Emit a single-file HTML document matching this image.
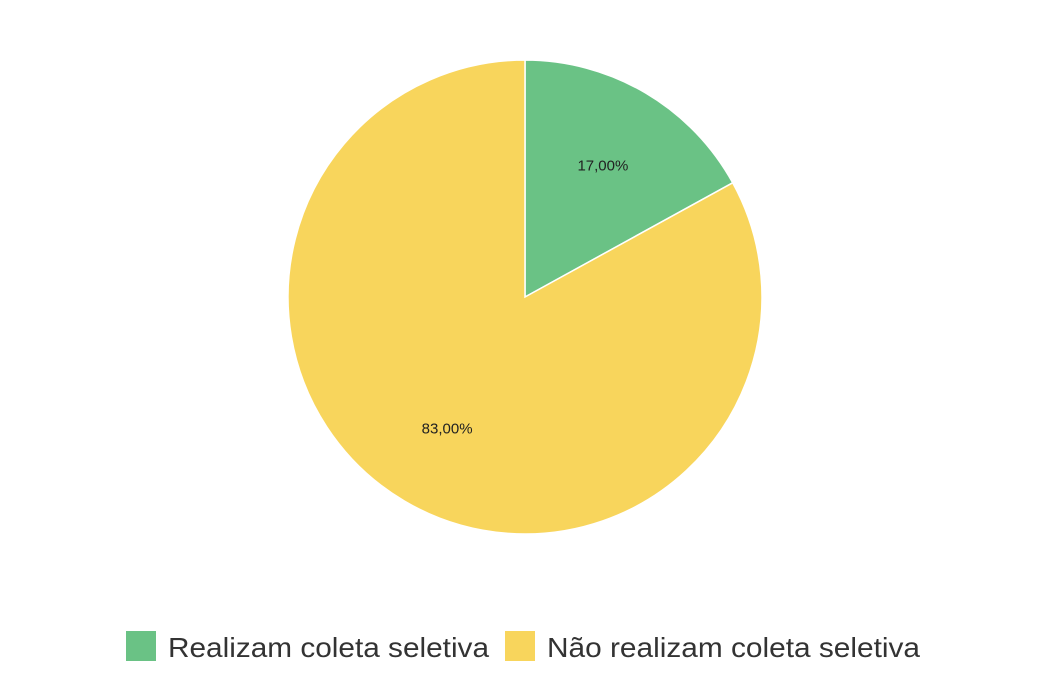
<!DOCTYPE html>
<html><head><meta charset="utf-8"><style>
html,body{margin:0;padding:0;background:#fff;width:1044px;height:679px;overflow:hidden}
svg{display:block}
</style></head><body>
<svg id="chart" width="1044" height="679">
<g id="slices"></g>
<g id="labels"></g>
<g id="legend"></g>
</svg>
<script>
const categories = ["Realizam coleta seletiva", "Não realizam coleta seletiva"];
const values = [17, 83];
const valueLabels = ["17,00%", "83,00%"];
const colors = ["#6ac285", "#f8d55c"];

const NS = "http://www.w3.org/2000/svg";
const cx = 525, cy = 297, r = 237, lr = 153;
const total = values.reduce((a, b) => a + b, 0);
const sg = document.getElementById("slices");
const lg = document.getElementById("labels");
let a0 = -Math.PI / 2;
values.forEach((v, i) => {
  const a1 = a0 + v / total * 2 * Math.PI;
  const large = (a1 - a0) > Math.PI ? 1 : 0;
  const p = document.createElementNS(NS, "path");
  p.setAttribute("d", `M${cx},${cy} L${cx + r * Math.cos(a0)},${cy + r * Math.sin(a0)} A${r},${r} 0 ${large} 1 ${cx + r * Math.cos(a1)},${cy + r * Math.sin(a1)} Z`);
  p.setAttribute("fill", colors[i]);
  p.setAttribute("stroke", "#fff");
  p.setAttribute("stroke-width", "1.5");
  
  
  sg.appendChild(p);
  const m = (a0 + a1) / 2;
  const t = document.createElementNS(NS, "text");
  t.setAttribute("x", cx + lr * Math.cos(m));
  t.setAttribute("y", cy + lr * Math.sin(m) + 5);
  t.setAttribute("text-anchor", "middle");
  t.setAttribute("font-family", "Liberation Sans, sans-serif");
  t.setAttribute("font-size", "15");
  t.setAttribute("fill", "#222");
  t.textContent = valueLabels[i];
  
  
  lg.appendChild(t);
  a0 = a1;
});
const leg = document.getElementById("legend");
const legX = [126, 505];
const legW = [321, 373];
categories.forEach((c, i) => {
  const rc = document.createElementNS(NS, "rect");
  rc.setAttribute("x", legX[i]); rc.setAttribute("y", 631);
  rc.setAttribute("width", 30); rc.setAttribute("height", 30);
  rc.setAttribute("fill", colors[i]);
  
  
  leg.appendChild(rc);
  const t = document.createElementNS(NS, "text");
  t.setAttribute("x", legX[i] + 42); t.setAttribute("y", 657);
  t.setAttribute("font-family", "Liberation Sans, sans-serif");
  t.setAttribute("font-size", "28");
  t.setAttribute("textLength", legW[i]);
  t.setAttribute("lengthAdjust", "spacingAndGlyphs");
  t.setAttribute("fill", "#333");
  t.textContent = c;
  
  
  leg.appendChild(t);
});
</script>
</body></html>
